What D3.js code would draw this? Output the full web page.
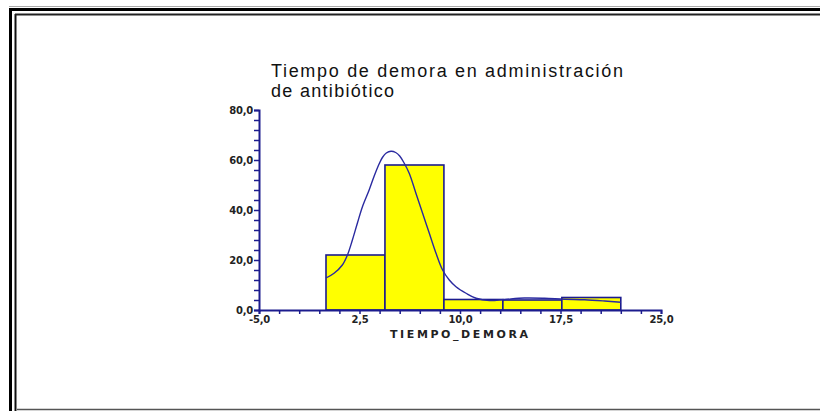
<!DOCTYPE html>
<html>
<head>
<meta charset="utf-8">
<script src="https://cdn.jsdelivr.net/npm/d3@7"></script>
<style>
  body { margin: 0; background: #fff; }
  svg { display: block; font-family: "Liberation Sans", Arial, sans-serif; }
</style>
</head>
<body>
<svg id="chart" width="820" height="411"></svg>
<script>
// histogram bins (TIEMPO_DEMORA) and their percentages
let binEdges = [0, 4.4, 8.8, 13.2, 17.6, 22.0];
let binPercent = [22.0, 58.0, 4.2, 4.0, 5.0];

// fitted density curve
let curveX = [0.0, 0.6, 1.22, 1.6, 1.97, 2.34, 2.72, 3.22, 3.59, 3.97, 4.21, 4.5, 4.85,
  5.2, 5.5, 5.84, 6.21, 6.71, 7.21, 7.71, 8.21, 8.70, 9.2, 9.7, 10.45, 11.2, 12.2, 13.3,
  14.8, 16.3, 17.8, 19.3, 20.8, 22.0];
let curveY = [12.8, 14.7, 18.0, 22.0, 28.0, 34.7, 41.3, 48.0, 53.5, 58.5, 61.0, 62.8, 63.5,
  63.0, 61.6, 58.7, 54.7, 46.7, 38.7, 30.7, 22.7, 16.0, 12.0, 9.3, 6.7, 4.7, 3.8, 4.2,
  4.8, 4.7, 4.3, 4.1, 3.6, 3.1];

// axis ticks
let xTicks = d3.range(0, 21).map(i => -5 + i * 1.5);
let xLabels = [-5, 2.5, 10, 17.5, 25];
let yTicks = d3.range(0, 21).map(i => i * 4);
let yLabels = [0, 20, 40, 60, 80];

let titleLines = ["Tiempo de demora en administración", "de antibiótico"];
let xTitle = "TIEMPO_DEMORA";

let svg = d3.select("#chart");
let axisColor = "#1c1c8e";
let fmt = v => d3.format(".1f")(v).replace(".", ",").replace("−", "-");

// window frame
let frame = svg.append("g").attr("fill", "none");
frame.append("line").attr("x1", 9).attr("x2", 820).attr("y1", 6.5).attr("y2", 6.5)
  .attr("stroke", "#aaa").attr("stroke-width", 1);
frame.append("line").attr("x1", 10.5).attr("x2", 10.5).attr("y1", 8).attr("y2", 411)
  .attr("stroke", "#000").attr("stroke-width", 3);
frame.append("line").attr("x1", 9).attr("x2", 820).attr("y1", 9.5).attr("y2", 9.5)
  .attr("stroke", "#000").attr("stroke-width", 3);
frame.append("line").attr("x1", 15.5).attr("x2", 15.5).attr("y1", 14).attr("y2", 411)
  .attr("stroke", "#111").attr("stroke-width", 2);
frame.append("line").attr("x1", 15).attr("x2", 820).attr("y1", 14.5).attr("y2", 14.5)
  .attr("stroke", "#222").attr("stroke-width", 2);
frame.append("line").attr("x1", 17).attr("x2", 820).attr("y1", 409.5).attr("y2", 409.5)
  .attr("stroke", "#555").attr("stroke-width", 1.5);

// scales
let xScale = d3.scaleLinear().domain([-5, 25]).range([259, 661]);
let yScale = d3.scaleLinear().domain([0, 80]).range([310, 110]);

// title
svg.append("g").selectAll("text").data(titleLines).enter().append("text")
  .attr("x", 271)
  .attr("y", (d, i) => 77 + i * 20)
  .attr("font-size", 18)
  .attr("fill", "#111")
  .attr("textLength", (d, i) => i == 0 ? 352 : 123)
  .attr("lengthAdjust", "spacing")
  .text(d => d);

// bars
let bins = binPercent.map((v, i) => ({ x0: binEdges[i], x1: binEdges[i + 1], v: v }));
svg.append("g").selectAll("rect").data(bins).enter().append("rect")
  .attr("x", d => xScale(d.x0))
  .attr("y", d => yScale(d.v))
  .attr("width", d => xScale(d.x1) - xScale(d.x0))
  .attr("height", d => yScale(0) - yScale(d.v))
  .attr("fill", "#ffff00")
  .attr("stroke", axisColor)
  .attr("stroke-width", 1.6);

// density curve
let line = d3.line()
  .x(d => xScale(d[0]))
  .y(d => yScale(d[1]))
  .curve(d3.curveCatmullRom);
svg.append("path")
  .datum(curveX.map((x, i) => [x, curveY[i]]))
  .attr("d", line)
  .attr("fill", "none")
  .attr("stroke", "#2a2aa0")
  .attr("stroke-width", 1.4);

// y axis
let yAxis = d3.axisLeft(yScale)
  .tickValues(yTicks)
  .tickSize(5)
  .tickFormat(d => yLabels.includes(d) ? fmt(d) : "");
let gy = svg.append("g")
  .attr("transform", "translate(" + xScale(-5) + ",0)")
  .call(yAxis);

// x axis
let xAxis = d3.axisBottom(xScale)
  .tickValues(xTicks)
  .tickSize(4)
  .tickFormat(d => xLabels.some(l => Math.abs(l - d) < 1e-6) ? fmt(d) : "");
let gx = svg.append("g")
  .attr("transform", "translate(0," + yScale(0) + ")")
  .call(xAxis);

[gx, gy].forEach(g => {
  g.select(".domain").attr("stroke", axisColor).attr("stroke-width", 2);
  g.selectAll(".tick line").attr("stroke", axisColor).attr("stroke-width", 1.5);
  g.selectAll(".tick text")
    .attr("fill", "#222")
    .attr("font-family", "Verdana, 'DejaVu Sans', sans-serif")
    .attr("font-size", 10)
    .attr("font-weight", "bold")
    .attr("letter-spacing", -0.2);
});
gy.selectAll(".tick text").attr("x", -6);
gx.selectAll(".tick text").attr("y", 6);

// x axis title
svg.append("text")
  .attr("x", 459)
  .attr("y", 338)
  .attr("text-anchor", "middle")
  .attr("font-family", "Verdana, 'DejaVu Sans', sans-serif")
  .attr("font-size", 11)
  .attr("font-weight", "bold")
  .attr("fill", "#222")
  .attr("textLength", 138)
  .attr("lengthAdjust", "spacing")
  .text(xTitle);
</script>
</body>
</html>
